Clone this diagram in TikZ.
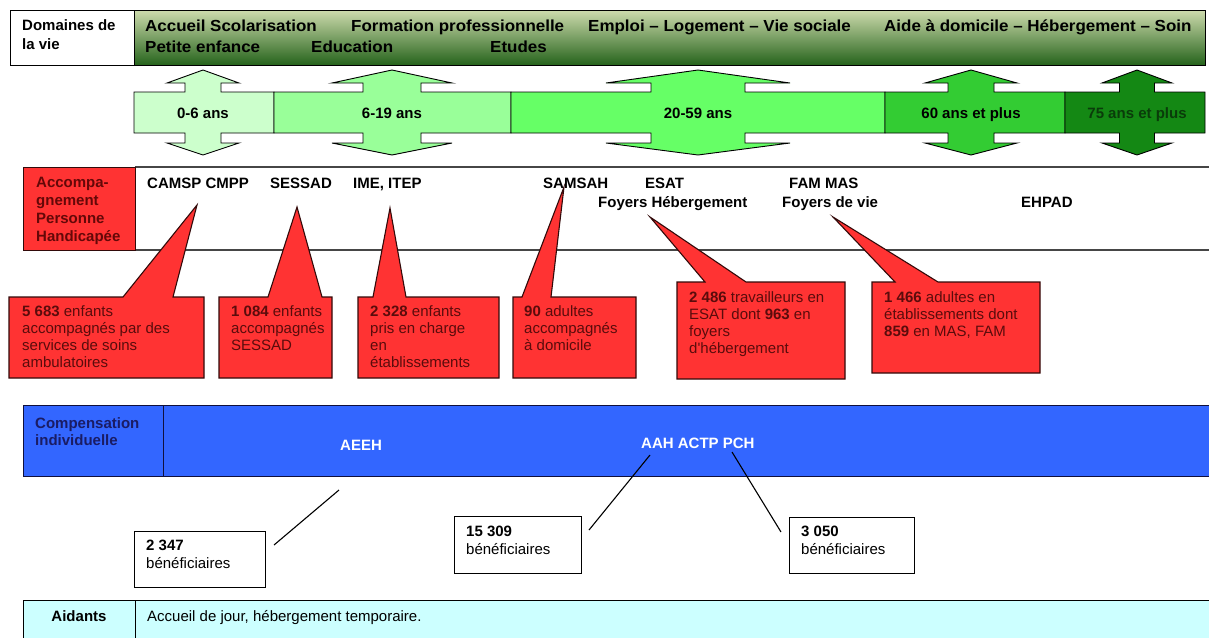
\documentclass[tikz,border=0pt]{standalone}
\usepackage{fontspec}
\setmainfont{Liberation Sans}
\newfontfamily\headfont[FakeStretch=1.06]{Liberation Sans}
\definecolor{hdtop}{RGB}{204,218,172}
\definecolor{hdmid}{RGB}{120,165,90}
\definecolor{hdbot}{RGB}{36,98,26}
\definecolor{ageA}{RGB}{204,255,204}
\definecolor{ageB}{RGB}{153,255,153}
\definecolor{ageC}{RGB}{102,255,102}
\definecolor{ageD}{RGB}{51,204,51}
\definecolor{ageE}{RGB}{20,136,20}
\definecolor{ageEtxt}{RGB}{10,60,10}
\definecolor{callred}{RGB}{255,51,51}
\definecolor{calltxt}{RGB}{90,12,12}
\definecolor{callline}{RGB}{50,10,10}
\definecolor{compblue}{RGB}{51,102,255}
\definecolor{comptxt}{RGB}{26,28,100}
\definecolor{aidcyan}{RGB}{204,255,255}
\definecolor{bandline}{RGB}{70,70,70}

\tikzset{
  bigbold/.style={font=\fontsize{15}{18}\selectfont\bfseries, inner sep=0pt, anchor=base west},
  headtxt/.style={font=\headfont\fontsize{16}{19}\selectfont\bfseries, inner sep=0pt, anchor=base west},
  agetxt/.style={font=\fontsize{15}{18}\selectfont\bfseries, inner sep=0pt, anchor=base},
  calltext/.style={font=\fontsize{15}{17}\selectfont, text=calltxt, inner sep=0pt, anchor=north west, align=left},
  callshape/.style={fill=callred, draw=callline, line width=1.1pt, line join=miter},
  benefbox/.style={draw=black, line width=1.1pt, fill=white, inner sep=0pt, anchor=north west},
  beneftxt/.style={font=\fontsize{15}{17.5}\selectfont, inner sep=0pt, anchor=north west, align=left},
  leader/.style={line width=1.1pt, draw=black},
}

% one age band: left, right, arrow centre, head half width, shaft half width, colour
\newcommand\agesegment[6]{%
  \filldraw[fill=#6, draw=black, line width=0.9pt, line join=miter]
    (#1,92) -- ({#3-#5},92) -- ({#3-#5},83) -- ({#3-#4},83) -- (#3,70)
    -- ({#3+#4},83) -- ({#3+#5},83) -- ({#3+#5},92) -- (#2,92)
    -- (#2,133) -- ({#3+#5},133) -- ({#3+#5},143) -- ({#3+#4},143)
    -- (#3,155) -- ({#3-#4},143) -- ({#3-#5},143) -- ({#3-#5},133)
    -- (#1,133) -- cycle;}

% speech box: left, top, right, bottom, pointer base from, pointer base to, tip x, tip y
\newcommand\callbox[8]{%
  \filldraw[callshape] (#1,#2) -- (#5,#2) -- (#7,#8) -- (#6,#2) -- (#3,#2)
    -- (#3,#4) -- (#1,#4) -- cycle;}

\begin{document}
\begin{tikzpicture}[x=1pt,y=-1pt]
\useasboundingbox[fill=white] (0,0) rectangle (1209,637);

% ---------- Domaines de la vie ----------
\node[draw=black, line width=1.2pt, fill=white, minimum width=124pt, minimum height=55pt,
      anchor=north west, inner sep=0pt] (domlabel) at (10,10) {};
\node[draw=black, line width=1.2pt, top color=hdtop, middle color=hdmid, bottom color=hdbot,
      minimum width=1071pt, minimum height=55pt, anchor=north west, inner sep=0pt] (domband) at (134,10) {};
\node[bigbold] (dom1) at (22,30) {Domaines de};
\node[bigbold] (dom2) at (22,49) {la vie};
\node[headtxt] (h1) at (145,31) {Accueil Scolarisation};
\node[headtxt] (h2) at (351,31) {Formation professionnelle};
\node[headtxt] (h3) at (588,31) {Emploi – Logement – Vie sociale};
\node[headtxt] (h4) at (884,31) {Aide à domicile – Hébergement – Soin};
\node[headtxt] (h5) at (145,52) {Petite enfance};
\node[headtxt] (h6) at (311,52) {Education};
\node[headtxt] (h7) at (490,52) {Etudes};

% ---------- age bands ----------
\agesegment{134}{274}{203}{36}{18}{ageA}
\agesegment{274}{511}{392}{60}{29}{ageB}
\agesegment{511}{885}{698}{92}{47}{ageC}
\agesegment{885}{1065}{971}{46}{23}{ageD}
\agesegment{1065}{1205}{1137}{35}{17.5}{ageE}
\node[agetxt] (a1) at (203,118.5) {0-6 ans};
\node[agetxt] (a2) at (392,118.5) {6-19 ans};
\node[agetxt] (a3) at (698,118.5) {20-59 ans};
\node[agetxt] (a4) at (971,118.5) {60 ans et plus};
\node[agetxt, text=ageEtxt] (a5) at (1137,118.5) {75 ans et plus};

% ---------- Accompagnement ----------
\draw[bandline, line width=1.6pt] (135,167) -- (1212,167);
\draw[bandline, line width=1.6pt] (135,250) -- (1212,250);
\node[draw=callline, line width=1.1pt, fill=callred, minimum width=112pt, minimum height=83pt,
      anchor=north west, inner sep=0pt] (acclabel) at (23,167) {};
\node[font=\fontsize{15}{18}\selectfont\bfseries, text={rgb,255:red,100;green,8;blue,8},
      inner sep=0pt, anchor=north west, align=left] (acctxt) at (36,177)
      {Accompa-\\gnement\\Personne\\Handicapée};

\node[bigbold] (s1) at (147,188.5) {CAMSP CMPP};
\node[bigbold] (s2) at (270,188.5) {SESSAD};
\node[bigbold] (s3) at (353,188.5) {IME, ITEP};
\node[bigbold] (s4) at (543,188.5) {SAMSAH};
\node[bigbold] (s5) at (645,188.5) {ESAT};
\node[bigbold] (s6) at (598,207.5) {Foyers Hébergement};
\node[bigbold] (s7) at (789,188.5) {FAM MAS};
\node[bigbold] (s8) at (782,207.5) {Foyers de vie};
\node[bigbold] (s9) at (1021,207.5) {EHPAD};

% speech boxes
\callbox{9}{297}{204}{378}{123}{173}{197}{205}
\callbox{219}{297}{332}{378}{268}{322}{297}{207}
\callbox{358}{297}{499}{378}{373}{406}{390}{208}
\callbox{513}{297}{636}{378}{522}{551}{564}{187}
\callbox{677}{282}{845}{379}{705}{746}{650}{217}
\callbox{872}{282}{1040}{373}{895}{938}{833}{217}
\node[calltext] (c1) at (22,305.5) {\textbf{5 683} enfants\\accompagnés par des\\services de soins\\ambulatoires};
\node[calltext] (c2) at (231,305.5) {\textbf{1 084} enfants\\accompagnés\\SESSAD};
\node[calltext] (c3) at (370,305.5) {\textbf{2 328} enfants\\pris en charge\\en\\établissements};
\node[calltext] (c4) at (524,305.5) {\textbf{90} adultes\\accompagnés\\à domicile};
\node[calltext] (c5) at (689,291) {\textbf{2 486} travailleurs en\\ESAT dont \textbf{963} en\\foyers\\d\textquotesingle hébergement};
\node[calltext] (c6) at (884,291) {\textbf{1 466} adultes en\\établissements dont\\\textbf{859} en MAS, FAM};

% ---------- Compensation individuelle ----------
\node[draw={rgb,255:red,16;green,16;blue,60}, line width=1.2pt, fill=compblue,
      minimum width=140pt, minimum height=71pt, anchor=north west, inner sep=0pt] (complabel) at (23,405) {};
\node[draw={rgb,255:red,16;green,16;blue,60}, line width=1.2pt, fill=compblue,
      minimum width=1052pt, minimum height=71pt, anchor=north west, inner sep=0pt] (compband) at (163,405) {};
\node[bigbold, text=comptxt] (comp1) at (35,428) {Compensation};
\node[bigbold, text=comptxt] (comp2) at (35,445) {individuelle};
\node[bigbold, text=white] (aeeh) at (340,450) {AEEH};
\node[bigbold, text=white] (aah) at (641,448) {AAH ACTP PCH};

% beneficiary boxes
\node[benefbox, minimum width=131pt, minimum height=56pt] (ben1) at (134,531) {};
\node[benefbox, minimum width=127pt, minimum height=57pt] (ben2) at (454,516) {};
\node[benefbox, minimum width=125pt, minimum height=56pt] (ben3) at (789,517) {};
\node[beneftxt] (bt1) at (146,540) {\textbf{2 347}\\bénéficiaires};
\node[beneftxt] (bt2) at (466,526) {\textbf{15 309}\\bénéficiaires};
\node[beneftxt] (bt3) at (801,526) {\textbf{3 050}\\bénéficiaires};

% leader lines
\coordinate (l1a) at (339,490);
\coordinate (l1b) at (274,545);
\coordinate (l2a) at (650,455);
\coordinate (l2b) at (589,530);
\coordinate (l3a) at (732,452);
\coordinate (l3b) at (781,532);
\draw[leader] (l1a) -- (l1b);
\draw[leader] (l2a) -- (l2b);
\draw[leader] (l3a) -- (l3b);

% ---------- Aidants ----------
\node[draw=black, line width=1.2pt, fill=aidcyan, minimum width=112pt, minimum height=48pt,
      anchor=north west, inner sep=0pt] (aidlabel) at (23,600) {};
\node[draw=black, line width=1.2pt, fill=aidcyan, minimum width=1080pt, minimum height=48pt,
      anchor=north west, inner sep=0pt] (aidband) at (135,600) {};
\node[font=\fontsize{15}{18}\selectfont\bfseries, inner sep=0pt, anchor=base] (aid1) at (79,621) {Aidants};
\node[font=\fontsize{15}{18}\selectfont, inner sep=0pt, anchor=base west] (aid2) at (147,621)
      {Accueil de jour, hébergement temporaire.};
\end{tikzpicture}
\end{document}
